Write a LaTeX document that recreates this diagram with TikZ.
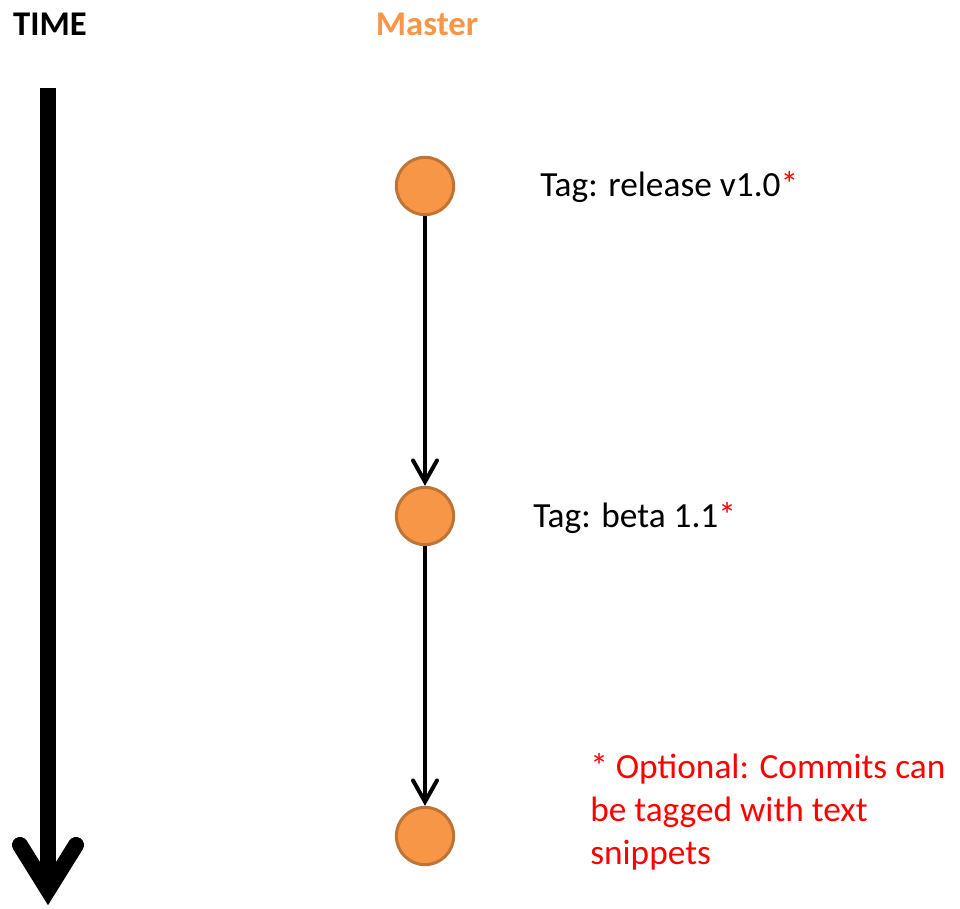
\documentclass[tikz,border=0pt]{standalone}
\usepackage{fontspec}
\setmainfont{Carlito}
\usetikzlibrary{arrows.meta}
\definecolor{commitfill}{HTML}{F79646}
\definecolor{commitline}{HTML}{BE7434}
\definecolor{tagred}{HTML}{FF0000}
\tikzset{
  commit/.style={circle, fill=commitfill, draw=commitline, line width=2.25pt, minimum size=43pt, inner sep=0pt},
  conn/.style={line width=3pt, -{Straight Barb[length=16pt, width=18pt, line cap=round]}},
  lbl/.style={font=\fontsize{26.5}{32.3}\selectfont, inner sep=0pt, anchor=base west},
  head/.style={font=\fontsize{26}{32}\selectfont\bfseries, inner sep=0pt, anchor=base},
}
\begin{document}
\begin{tikzpicture}[x=0.75pt, y=-0.75pt]
\useasboundingbox (0,0) rectangle (960,908);
% titles
\node[head] (time) at (50,35) {TIME};
\node[head, text=commitfill] (master) at (427,35) {Master};
% time arrow
\coordinate (ts) at (48,88);
\coordinate (tv) at (48,890);
\draw[line width=12pt] (ts) -- (48,880);
\draw[line width=12pt, line cap=round, line join=miter] (20,845) -- (tv) -- (76,845);
% commits
\node[commit] (c1) at (425,186) {};
\node[commit] (c2) at (425,516) {};
\node[commit] (c3) at (425,836) {};
\draw[conn] (c1) -- (c2);
\draw[conn] (c2) -- (c3);
% tags
\node[lbl] (t1) at (540,196) {Tag: release v1.0\textcolor{tagred}{*}};
\node[lbl] (t2) at (533,527) {Tag: beta 1.1\textcolor{tagred}{*}};
\node[lbl, text=tagred, anchor=north west, align=left] (note) at (590,753) {* Optional: Commits can\\be tagged with text\\snippets};
\end{tikzpicture}
\end{document}
